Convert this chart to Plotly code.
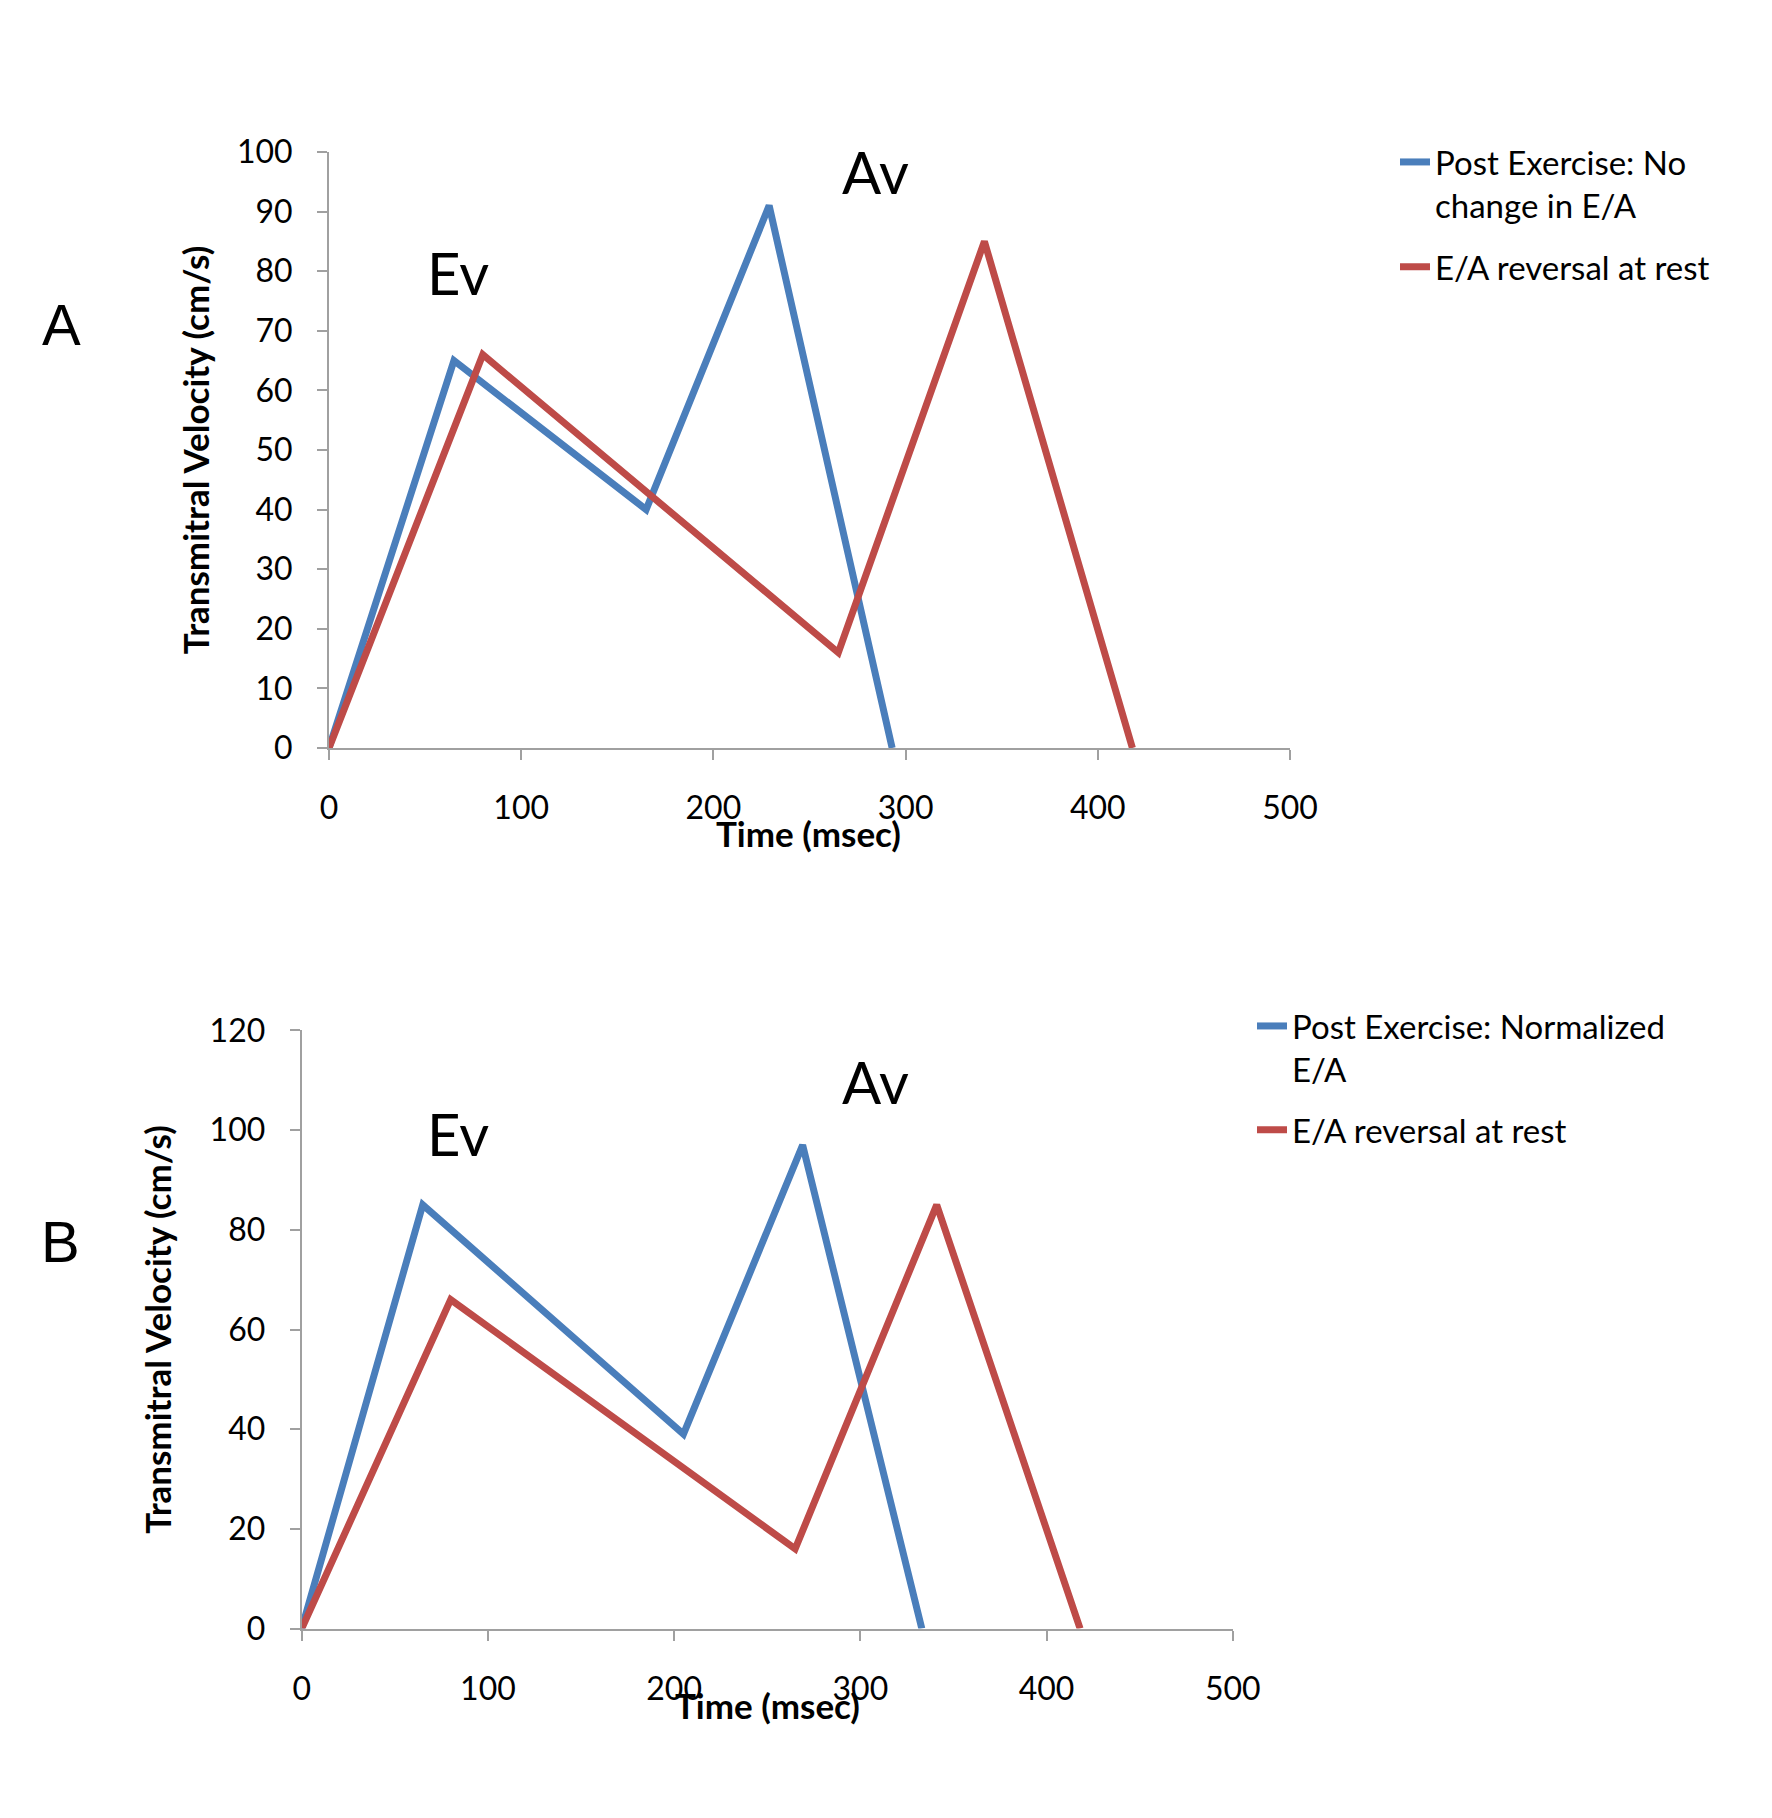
import plotly.graph_objects as go

# ---- data ----
time_a_post = [0, 65, 165, 229, 293]
vel_a_post = [0, 65, 40, 91, 0]
time_rest = [0, 80, 265, 341, 418]
vel_rest = [0, 66, 16, 85, 0]
time_b_post = [0, 65, 205, 269, 333]
vel_b_post = [0, 85, 39, 97, 0]

name_a_post = "Post Exercise: No<br>change in E/A"
name_b_post = "Post Exercise: Normalized<br>E/A"
name_rest = "E/A reversal at rest"
x_title = "Time (msec)"
y_title = "Transmitral Velocity (cm/s)"

x_ticks = [0, 100, 200, 300, 400, 500]
ya_ticks = [0, 10, 20, 30, 40, 50, 60, 70, 80, 90, 100]
yb_ticks = [0, 20, 40, 60, 80, 100, 120]

BLUE = "#4A7EBB"
RED = "#BE4B48"
AXIS = "#A0A0A0"
FONT = "Lato"

W, H = 1772, 1818
OFF = 8  # page body margin


def px(x):
    return (x - OFF) / W


def py(y):
    return 1 - (y - OFF) / H


fig = go.Figure()
fig.add_trace(go.Scatter(x=time_a_post, y=vel_a_post, mode="lines", name=name_a_post,
                         line=dict(color=BLUE, width=7), xaxis="x", yaxis="y",
                         legend="legend", legendgroup="a1", cliponaxis=False))
fig.add_trace(go.Scatter(x=time_rest, y=vel_rest, mode="lines", name=name_rest,
                         line=dict(color=RED, width=7), xaxis="x", yaxis="y",
                         legend="legend", legendgroup="a2", cliponaxis=False))
fig.add_trace(go.Scatter(x=time_b_post, y=vel_b_post, mode="lines", name=name_b_post,
                         line=dict(color=BLUE, width=7), xaxis="x2", yaxis="y2",
                         legend="legend2", legendgroup="b1", cliponaxis=False))
fig.add_trace(go.Scatter(x=time_rest, y=vel_rest, mode="lines", name=name_rest,
                         line=dict(color=RED, width=7), xaxis="x2", yaxis="y2",
                         legend="legend2", legendgroup="b2", cliponaxis=False))

tick_font = dict(family=FONT, size=32, color="black")
title_font = dict(family=FONT, size=35, color="black", weight="bold")

xcommon = dict(range=[0, 500], tickvals=x_ticks, showline=True, linecolor=AXIS, linewidth=2,
               ticks="outside", ticklen=10, tickwidth=2, tickcolor=AXIS, showgrid=False,
               zeroline=False, tickfont=tick_font, ticklabelstandoff=21, automargin=False)
ycommon = dict(showline=True, linecolor=AXIS, linewidth=2, ticks="outside", ticklen=10,
               tickwidth=2, tickcolor=AXIS, showgrid=False, zeroline=False, tickfont=tick_font,
               ticklabelstandoff=18, automargin=False)

legend_font = dict(family=FONT, size=33, color="black")

fig.update_layout(
    width=W, height=H,
    paper_bgcolor="white", plot_bgcolor="white",
    margin=dict(l=0, r=0, t=0, b=0, autoexpand=False),
    font=dict(family=FONT, color="black"),
    xaxis=dict(domain=[px(329), px(1290)], anchor="y", **xcommon),
    yaxis=dict(domain=[py(748), py(152)], anchor="x", range=[0, 100], tickvals=ya_ticks,
               title=dict(text=y_title, font=title_font, standoff=17),
               **ycommon),
    xaxis2=dict(domain=[px(301.7), px(1232.8)], anchor="y2", **xcommon),
    yaxis2=dict(domain=[py(1628.6), py(1030.4)], anchor="x2", range=[0, 120], tickvals=yb_ticks,
                title=dict(text=y_title, font=title_font, standoff=27),
                **ycommon),
    legend=dict(x=px(1395), y=py(134), xanchor="left", yanchor="top", valign="top",
                font=legend_font, bgcolor="rgba(0,0,0,0)", tracegroupgap=16),
    legend2=dict(x=px(1252), y=py(998), xanchor="left", yanchor="top", valign="top",
                 font=legend_font, bgcolor="rgba(0,0,0,0)", tracegroupgap=15),
    showlegend=True,
)

ann_font = dict(family=FONT, size=58, color="black")
letter_font = dict(family="Liberation Sans", size=58, color="black")
annotations = [
    dict(text="Ev", x=px(458), y=py(272.5), font=ann_font),
    dict(text="Av", x=px(875.6), y=py(171.6), font=ann_font),
    dict(text="Ev", x=px(458), y=py(1133), font=ann_font),
    dict(text="Av", x=px(875.6), y=py(1081), font=ann_font),
    dict(text="A", x=px(61.5), y=py(324.7), font=letter_font),
    dict(text="B", x=px(60.3), y=py(1241), font=letter_font),
    dict(text="<b>" + x_title + "</b>", x=px(808.3), y=py(832.7), font=title_font),
    dict(text="<b>" + x_title + "</b>", x=px(767.7), y=py(1704.8), font=title_font),
]
for a in annotations:
    fig.add_annotation(xref="paper", yref="paper", xanchor="center", yanchor="middle",
                       showarrow=False, **a)

fig.write_html("out.html")
